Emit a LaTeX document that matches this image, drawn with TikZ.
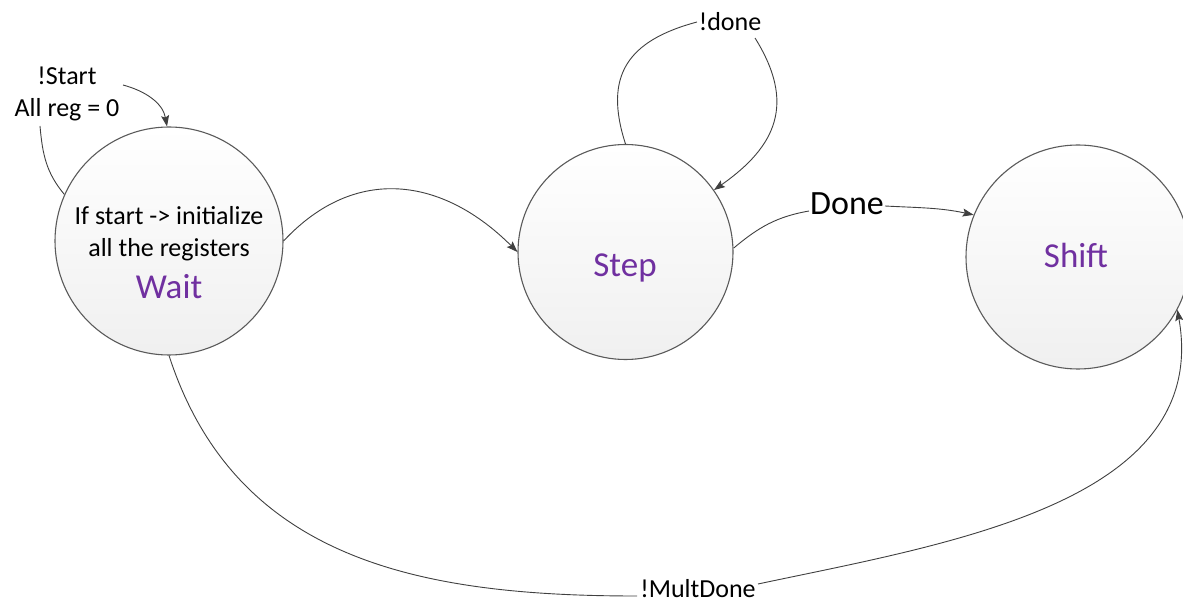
\documentclass[tikz,border=0pt]{standalone}
\usepackage{fontspec}
\setmainfont{Carlito}
\usetikzlibrary{arrows.meta}
\definecolor{stpurple}{HTML}{7030A0}
\definecolor{edgegray}{HTML}{404040}
\definecolor{circgray}{HTML}{5A5A5A}
\begin{document}
\begin{tikzpicture}[x=1pt,y=1pt,
  state/.style={circle, draw=circgray, line width=1.1pt, top color=white, bottom color=black!6, inner sep=0pt},
  edge/.style={draw=edgegray, line width=0.9pt},
  arr/.style={-{Stealth[length=11pt,width=8pt,inset=2pt]}},
  small/.style={font=\fontsize{26}{32}\selectfont, inner sep=0pt, align=center},
  big/.style={font=\fontsize{35}{40}\selectfont, text=stpurple, inner sep=0pt}]
\useasboundingbox (0,0) rectangle (1183,603);
% states
\node[state, minimum size=228pt] (wait) at (169,362) {};
\node[state, minimum size=215pt] (step) at (625.5,351) {};
\node[state, minimum size=224pt] (shift) at (1078,346) {};
% texts
\node[small] (wtxt) at (169,369) {If start -> initialize\\all the registers};
\node[big] (wname) at (169,316) {Wait};
\node[big] (sname) at (625,335) {Step};
\node[big] (shname) at (1076,348) {Shift};
\node[small] (startlbl) at (67,509) {!Start\\All reg = 0};
\node[small] (donelbl) at (730,581) {!done};
\node[font=\fontsize{34}{40}\selectfont, inner sep=0pt] (donelbl2) at (847,399) {Done};
\node[font=\fontsize{26}{32}\selectfont, inner sep=0pt] (multlbl) at (698,14) {!MultDone};
% connector ends at labels
\coordinate (s1) at (40,477);
\coordinate (s2) at (123,518);
\coordinate (d1) at (697,581);
\coordinate (d2) at (755,565);
\coordinate (D1) at (809,392);
\coordinate (D2) at (885,397);
\coordinate (m1) at (637,7);
\coordinate (m2) at (758,19);
% edges
\draw[edge] (wait.156) to[out=130,in=-85] (s1);
\draw[edge,arr] (s2) to[out=-15,in=100] (wait.91);
\draw[edge,arr] (wait.0) to[out=47,in=135,looseness=1.15] (step.180);
\draw[edge] (step.90) to[out=108,in=195,looseness=1.3] (d1);
\draw[edge,arr] (d2) to[out=-58,in=35,looseness=1.25] (step.35);
\draw[edge] (step.2) to[out=40,in=190] (D1);
\draw[edge,arr] (D2) to[out=-3,in=168] (shift.158);
\draw[edge] (wait.270) to[out=-72,in=180,looseness=1.05] (m1);
\draw[edge,arr] (m2) to[out=12,in=-80] (shift.-28);
\end{tikzpicture}
\end{document}
